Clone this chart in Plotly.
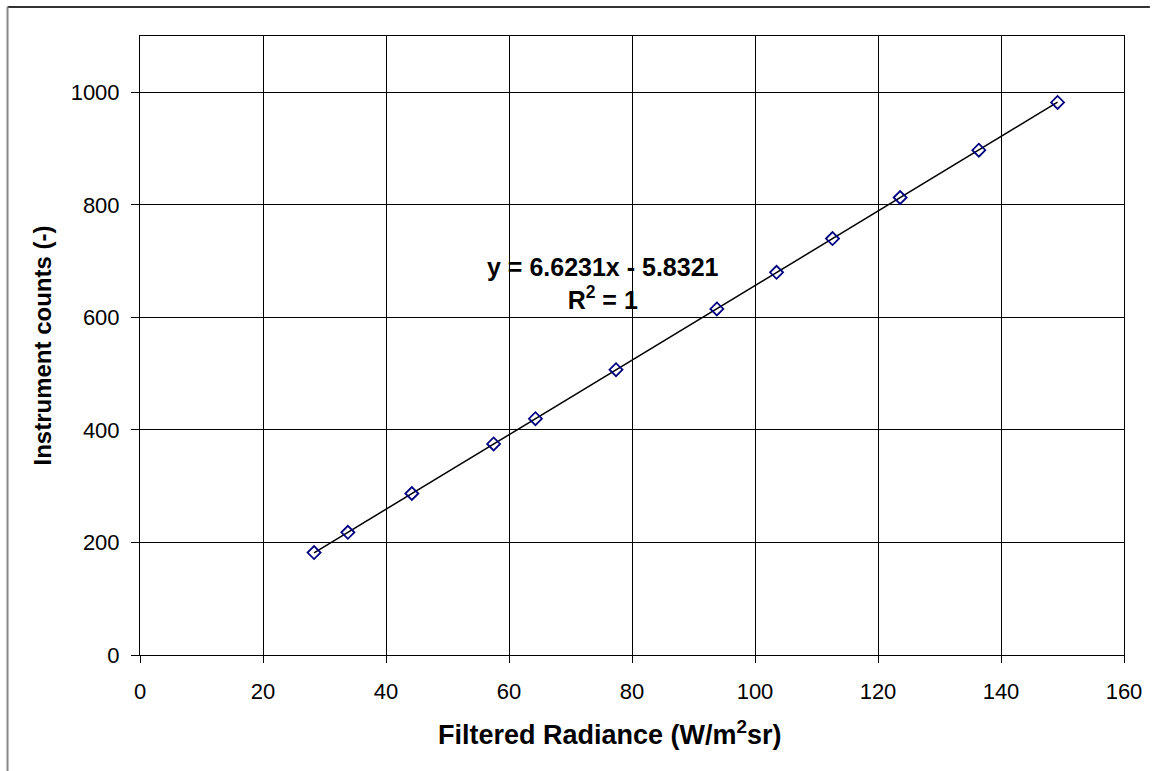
import numpy as np
import plotly.graph_objects as go

radiance = [28.3, 33.8, 44.2, 57.5, 64.3, 77.4, 93.8, 103.5, 112.6, 123.6, 136.4, 149.2]
counts = [182, 218, 287, 375, 420, 507, 615, 680, 740, 813, 897, 982]

slope, intercept = 6.6231, -5.8321
x_fit = [min(radiance), max(radiance)]
y_fit = [slope * v + intercept for v in x_fit]

FONT = "Arial, Liberation Sans, sans-serif"

fig = go.Figure()
fig.add_trace(go.Scatter(x=x_fit, y=y_fit, mode="lines",
                         line=dict(color="black", width=1.5), showlegend=False, hoverinfo="skip"))
fig.add_trace(go.Scatter(x=radiance, y=counts, mode="markers",
                         marker=dict(symbol="diamond-open", size=10, color="#000080",
                                     line=dict(width=1.8, color="#000080")),
                         showlegend=False))

L, R, T, B = 140, 26, 36, 116
W, H = 1154, 771
pw, ph = W - L - R, H - T - B

axis_common = dict(showgrid=True, gridcolor="black", gridwidth=1, showline=True, linecolor="black",
                   linewidth=1, mirror=True, ticks="outside", tickcolor="black",
                   zeroline=False, tickfont=dict(family=FONT, size=22, color="black"))

fig.update_layout(
    width=W, height=H, margin=dict(l=L, r=R, t=T, b=B),
    paper_bgcolor="white", plot_bgcolor="white",
    font=dict(family=FONT, size=22, color="black"),
    xaxis=dict(range=[0, 160], dtick=20, tick0=0, ticklen=7, ticklabelstandoff=10,
               **axis_common),
    yaxis=dict(range=[0, 1100], tickvals=[0, 200, 400, 600, 800, 1000], ticklen=8, ticklabelstandoff=7,
               title=dict(text="<b>Instrument counts (-)</b>", standoff=12,
                          font=dict(family=FONT, size=24, color="black")),
               **axis_common),
    annotations=[
        dict(x=75.3, y=661, xref="x", yref="y", showarrow=False,
             text="<b>y = 6.6231x - 5.8321<br>R<sup>2</sup> = 1</b>", align="center",
             font=dict(family=FONT, size=25, color="black")),
        dict(x=(612 - L) / pw, y=(H - B - 733) / ph, xref="paper", yref="paper", showarrow=False,
             xanchor="center", yanchor="middle",
             text="<b>Filtered Radiance (W/m<sup>2</sup>sr)</b>",
             font=dict(family=FONT, size=27, color="black")),
    ],
    shapes=[
        dict(type="line", xref="paper", yref="paper",
             x0=(7 - L) / pw, x1=(W - L) / pw, y0=(H - B - 7) / ph, y1=(H - B - 7) / ph,
             line=dict(color="#333333", width=2)),
        dict(type="line", xref="paper", yref="paper",
             x0=(7 - L) / pw, x1=(7 - L) / pw, y0=(H - B - 7) / ph, y1=-(B) / ph,
             line=dict(color="#888888", width=2)),
    ],
)

fig.write_html("out.html")
